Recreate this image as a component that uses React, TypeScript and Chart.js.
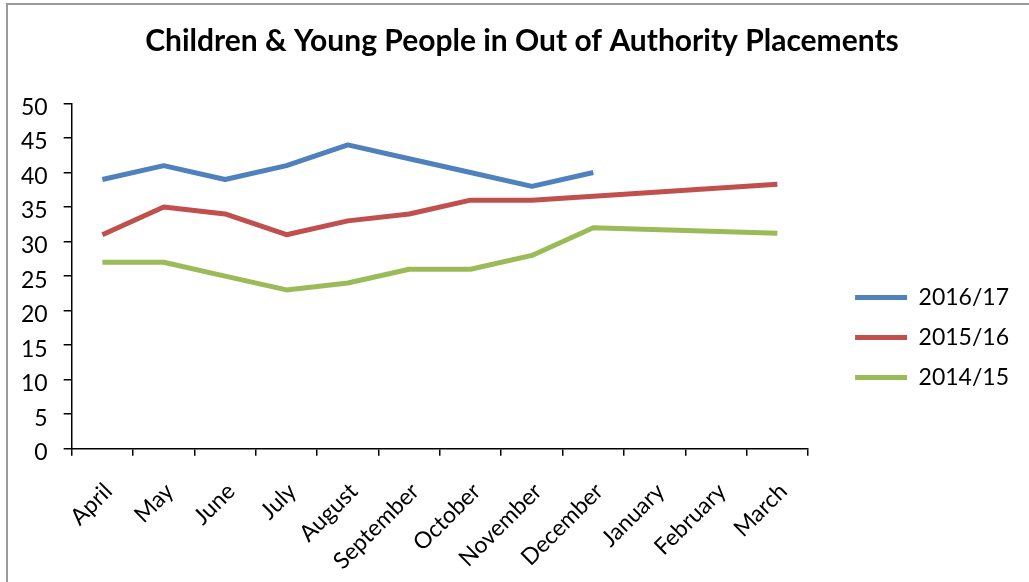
import React, { useEffect, useRef } from "react";
import { Chart, registerables } from "chart.js";

Chart.register(...registerables);

const months = [
  "April", "May", "June", "July", "August", "September",
  "October", "November", "December", "January", "February", "March",
];
const year201617 = [39, 41, 39, 41, 44, 42, 40, 38, 40, null, null, null];
const year201516 = [31, 35, 34, 31, 33, 34, 36, 36, null, null, null, 38.3];
const year201415 = [27, 27, 25, 23, 24, 26, 26, 28, 32, null, null, 31.2];
const seriesNames = ["2016/17", "2015/16", "2014/15"];
const yTicks = [0, 5, 10, 15, 20, 25, 30, 35, 40, 45, 50];

const FONT = "Lato, 'Open Sans', sans-serif";

// Nudges the title and the right-hand legend after the layout pass:
// the title is centred over the whole frame, the legend sits lower and
// a little away from the plot.
const boxPlacement = {
  id: "boxPlacement",
  afterLayout(chart: any, _args: any, opts: any) {
    const lg = chart.legend;
    if (lg) {
      lg.left += opts.legendDx;
      lg.right += opts.legendDx;
      lg.top += opts.legendDy;
      lg.bottom += opts.legendDy;
    }
    const tb = chart.titleBlock;
    if (tb) {
      tb.left += opts.titleDx;
      tb.right += opts.titleDx;
    }
  },
};

export default function App() {
  const canvasRef = useRef<HTMLCanvasElement | null>(null);

  useEffect(() => {
    if (!canvasRef.current) return;
    const line = (label: string, data: (number | null)[], color: string) => ({
      label,
      data,
      borderColor: color,
      backgroundColor: color,
      borderWidth: 5,
      pointRadius: 0,
      pointHoverRadius: 0,
      tension: 0,
      spanGaps: true,
      borderJoinStyle: "round" as const,
      borderCapStyle: "butt" as const,
    });
    const axisGrid = (len: number) => ({
      display: true,
      drawOnChartArea: false,
      drawTicks: true,
      tickLength: len,
      color: "#000",
      lineWidth: 1.5,
    });
    const chart = new Chart(canvasRef.current, {
      type: "line",
      data: {
        labels: months,
        datasets: [
          line(seriesNames[0], year201617, "#4F81BD"),
          line(seriesNames[1], year201516, "#C0504D"),
          line(seriesNames[2], year201415, "#9BBB59"),
        ],
      },
      plugins: [boxPlacement],
      options: {
        animation: false,
        responsive: true,
        maintainAspectRatio: false,
        layout: { padding: { left: -3, right: 71, top: 0, bottom: 48 } },
        plugins: {
          title: {
            display: true,
            text: "Children & Young People in Out of Authority Placements",
            color: "#000",
            font: { family: FONT, size: 30, weight: "bold" },
            padding: { top: 18, bottom: 44.5 },
          },
          legend: {
            position: "right",
            labels: {
              usePointStyle: true,
              pointStyle: "line",
              pointStyleWidth: 52,
              color: "#000",
              font: { family: FONT, size: 23 },
              padding: 17,
            },
          },
          boxPlacement: { legendDx: 30, legendDy: 36.5, titleDx: 25 },
          tooltip: { enabled: false },
        } as any,
        scales: {
          x: {
            type: "category",
            offset: true,
            grid: { ...axisGrid(7), offset: true },
            border: { display: true, color: "#000", width: 1.5 },
            ticks: {
              color: "#000",
              font: { family: FONT, size: 23 },
              maxRotation: 45,
              minRotation: 45,
              autoSkip: false,
              padding: 22,
              labelOffset: 6,
            },
          },
          y: {
            min: 0,
            max: 50,
            afterBuildTicks: (axis: any) => {
              axis.ticks = yTicks.map((v) => ({ value: v }));
            },
            grid: axisGrid(8),
            border: { display: true, color: "#000", width: 1.5 },
            ticks: {
              color: "#000",
              font: { family: FONT, size: 23 },
              padding: 16,
              labelOffset: 4,
            },
          },
        },
      },
    });
    return () => chart.destroy();
  }, []);

  return (
    <div style={{ position: "fixed", inset: 0, overflow: "hidden", background: "#fff" }}>
      <div
        style={{
          position: "absolute",
          left: 6,
          top: 3,
          width: 1052,
          height: 640,
          border: "2px solid #9a9a9a",
        }}
      >
        <canvas ref={canvasRef} />
      </div>
    </div>
  );
}
